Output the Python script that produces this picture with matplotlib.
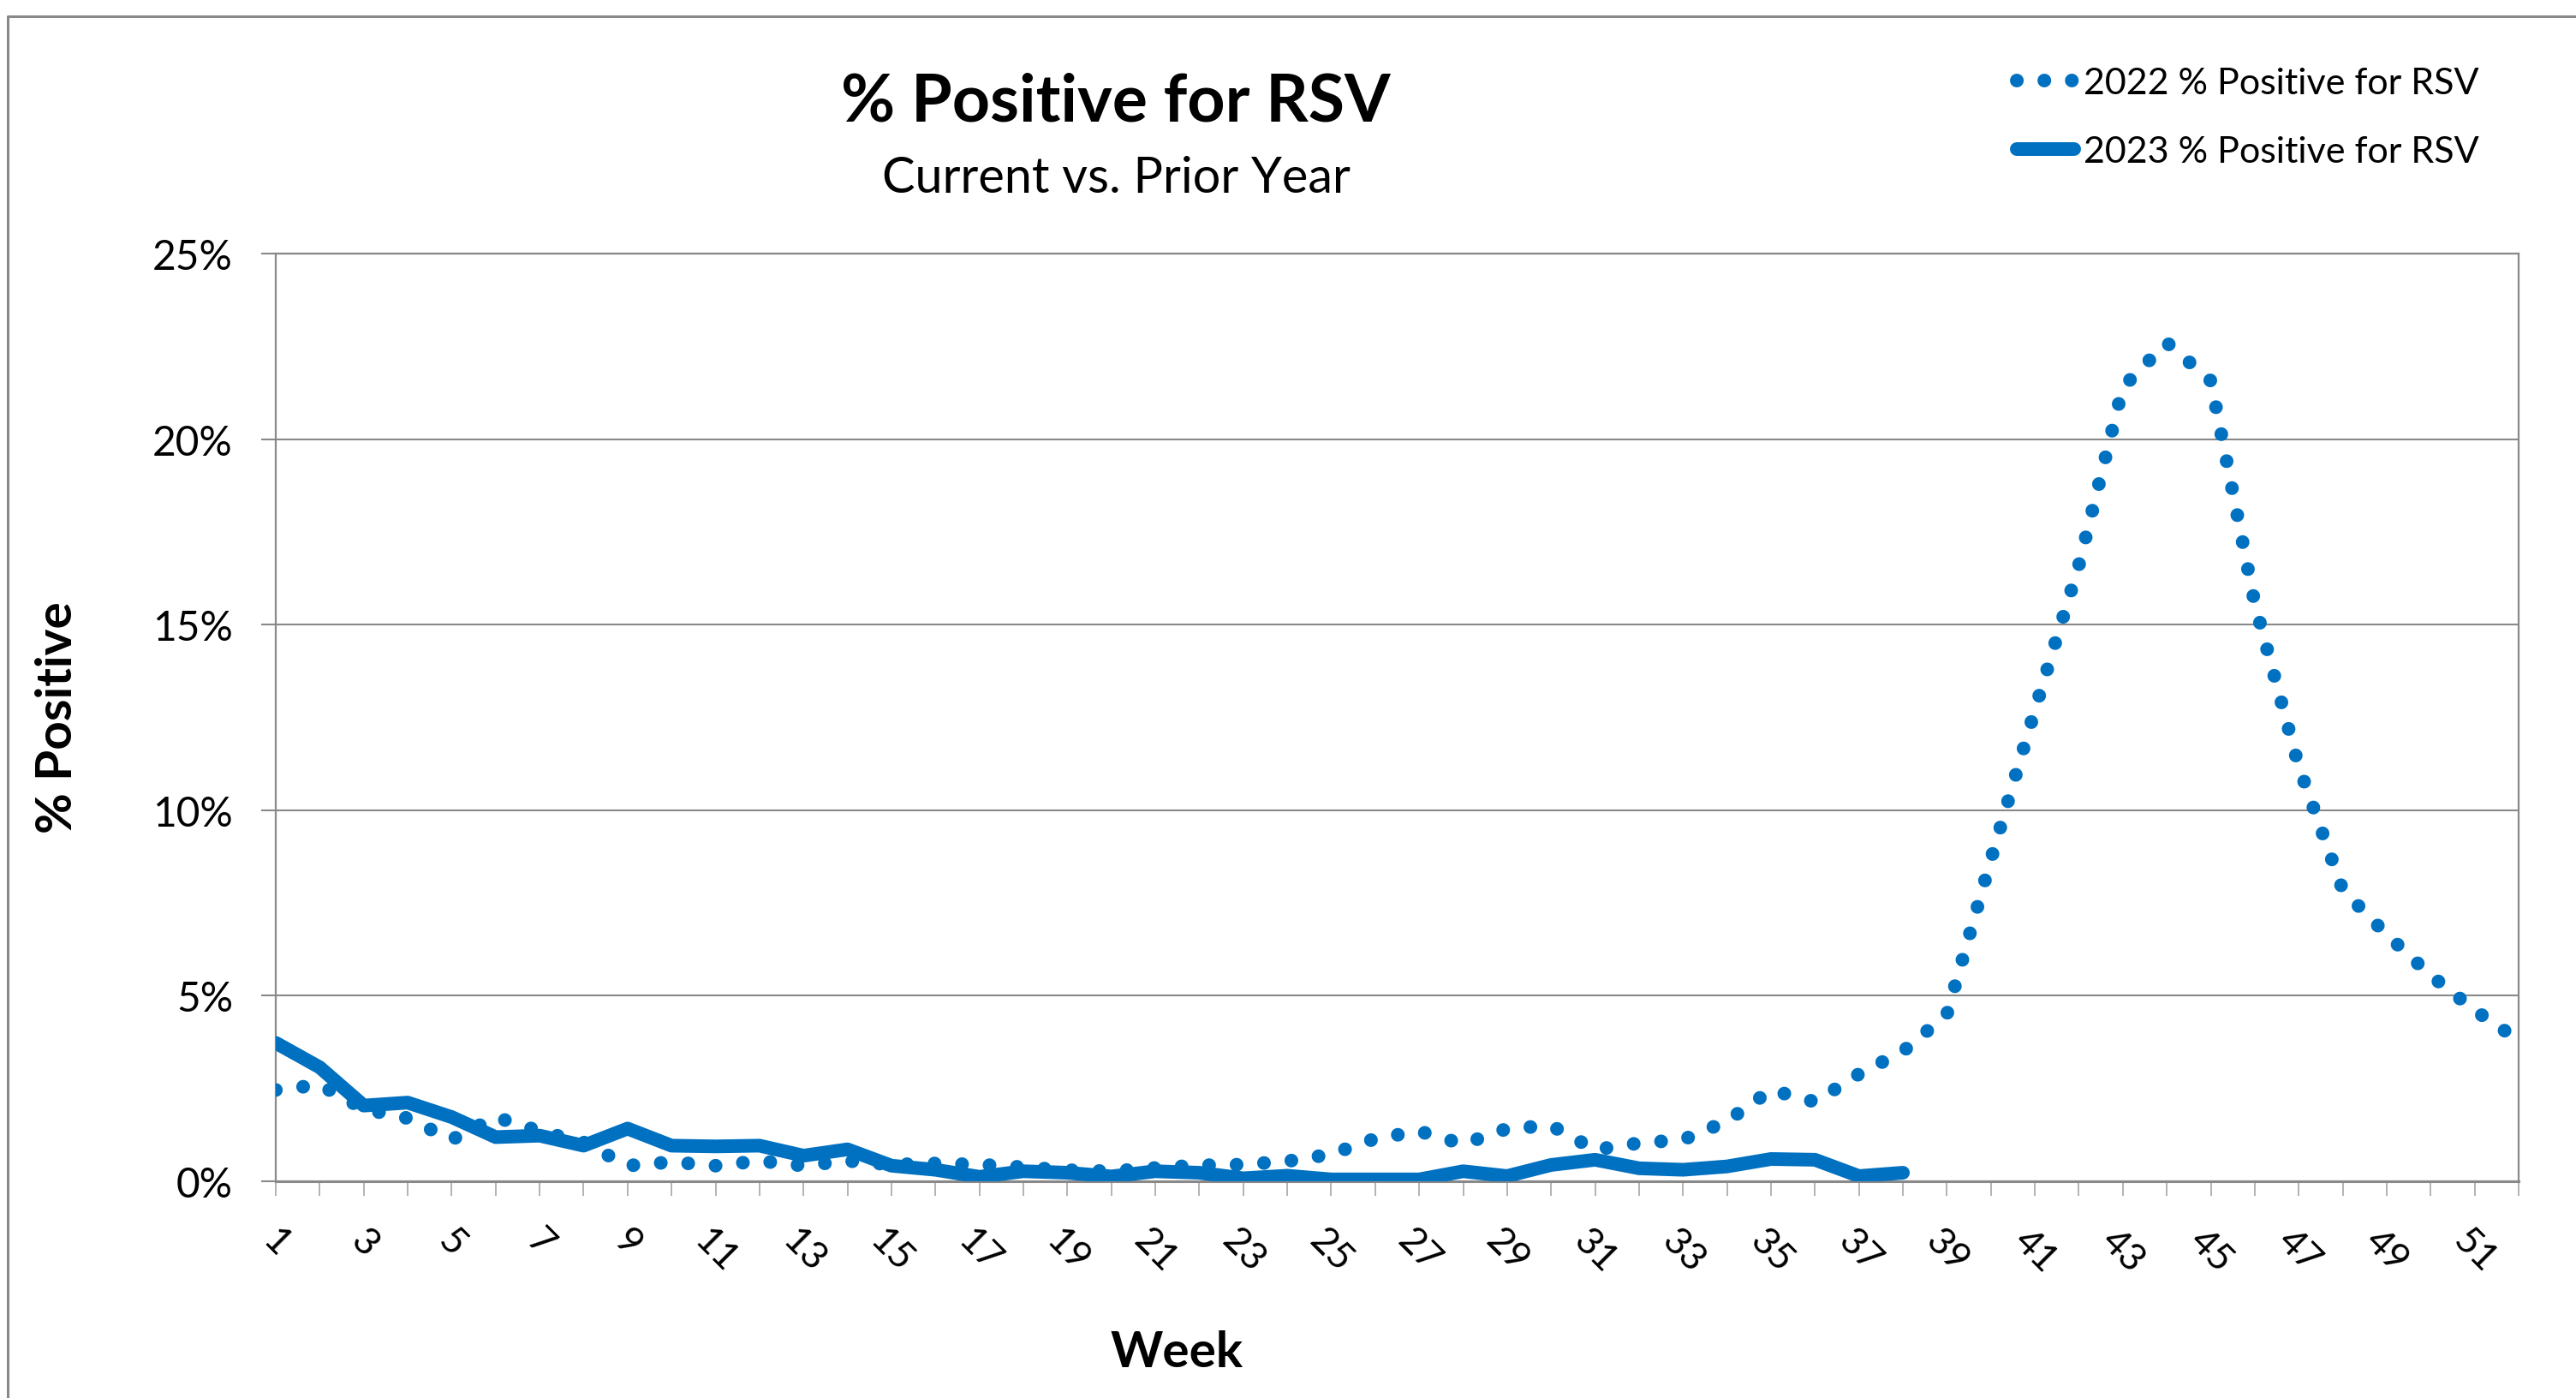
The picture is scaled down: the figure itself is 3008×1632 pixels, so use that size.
import matplotlib
matplotlib.use("Agg")
import matplotlib.pyplot as plt
from matplotlib.lines import Line2D

plt.rcParams['font.family'] = ['Lato', 'DejaVu Sans']

weeks = list(range(1, 53))
tick_labels = [str(w) if w % 2 == 1 else '' for w in weeks]

pos_2022 = [2.46, 2.60, 1.95, 1.70, 1.12, 1.73, 1.35, 1.05, 0.42, 0.52,
            0.42, 0.55, 0.42, 0.55, 0.45, 0.48, 0.45, 0.38, 0.30, 0.27,
            0.36, 0.43, 0.45, 0.54, 0.73, 1.15, 1.35, 1.00, 1.42, 1.50,
            0.85, 1.03, 1.12, 1.62, 2.46, 2.14, 2.89, 3.50, 4.50, 8.67,
            12.7, 16.6, 21.4, 22.6, 21.57, 15.57, 11.18, 7.85, 6.65, 5.55,
            4.61, 3.80]

pos_2023 = [3.73, 3.07, 2.04, 2.12, 1.73, 1.19, 1.23, 0.96, 1.42, 0.96,
            0.94, 0.96, 0.69, 0.86, 0.42, 0.31, 0.12, 0.27, 0.23, 0.13,
            0.27, 0.23, 0.08, 0.15, 0.05, 0.05, 0.05, 0.27, 0.14, 0.44,
            0.58, 0.35, 0.31, 0.40, 0.60, 0.58, 0.14, 0.23]

y_ticks = [0, 5, 10, 15, 20, 25]
y_tick_labels = ['0%', '5%', '10%', '15%', '20%', '25%']

label_2022 = '2022 % Positive for RSV'
label_2023 = '2023 % Positive for RSV'

BLUE = '#0070C0'
GRAY = '#898989'

W, H = 3008, 1633
fig = plt.figure(figsize=(W / 100, H / 100), dpi=100)
ax = fig.add_axes([322 / W, 1 - 1380 / H, (2941 - 322) / W, (1380 - 297) / H])

lw = 11.5
ax.plot(weeks, pos_2022, color=BLUE, lw=lw, linestyle=(0, (0.01, 2.0)),
        dash_capstyle='round', label=label_2022, zorder=3)
ax.plot(weeks[:len(pos_2023)], pos_2023, color=BLUE, lw=lw,
        solid_capstyle='round', solid_joinstyle='round', label=label_2023, zorder=4)

ax.set_xlim(1, 52)
ax.set_ylim(0, 25)
ax.set_yticks(y_ticks, y_tick_labels)
ax.set_xticks(weeks, tick_labels)
ax.grid(axis='y', color=GRAY, lw=1.5)
ax.set_axisbelow(True)
for s in ax.spines.values():
    s.set_color(GRAY)
    s.set_linewidth(1.6)
ax.spines['bottom'].set_linewidth(2.2)

ax.tick_params(axis='y', length=12, width=1.5, color=GRAY, pad=24, labelsize=34.5)
ax.tick_params(axis='x', length=12, width=1.2, color='#a6a6a6', pad=22,
               labelsize=32, labelrotation=-45)
for t in ax.get_xticklabels():
    t.set_ha('center')
    t.set_va('top')

fig.text(1303 / W, 1 - 141 / H, '% Positive for RSV', ha='center', va='baseline',
         fontsize=55.5, fontweight='bold')
fig.text(1303 / W, 1 - 225 / H, 'Current vs. Prior Year', ha='center', va='baseline',
         fontsize=41.5)
fig.text(1374 / W, 1 - 1596 / H, 'Week', ha='center', va='baseline',
         fontsize=42, fontweight='bold')
fig.text(68 / W, 1 - 838 / H, '% Positive', ha='center', va='center', rotation=90,
         fontsize=42, fontweight='bold')

leg = ax.legend(loc='upper left', bbox_to_anchor=(2355 / W, 1 - 79 / H),
                bbox_transform=fig.transFigure, frameon=False, fontsize=31,
                handlelength=1.56, handletextpad=0.25, labelspacing=0.98,
                borderpad=0, borderaxespad=0)

# outer chart border (partially visible in the original)
fig.add_artist(Line2D([9 / W, 9 / W, 1.0], [0.0, 1 - 20 / H, 1 - 20 / H],
                      transform=fig.transFigure, color=GRAY, lw=2.2))

fig.savefig('out.png', dpi=100, facecolor='white')
